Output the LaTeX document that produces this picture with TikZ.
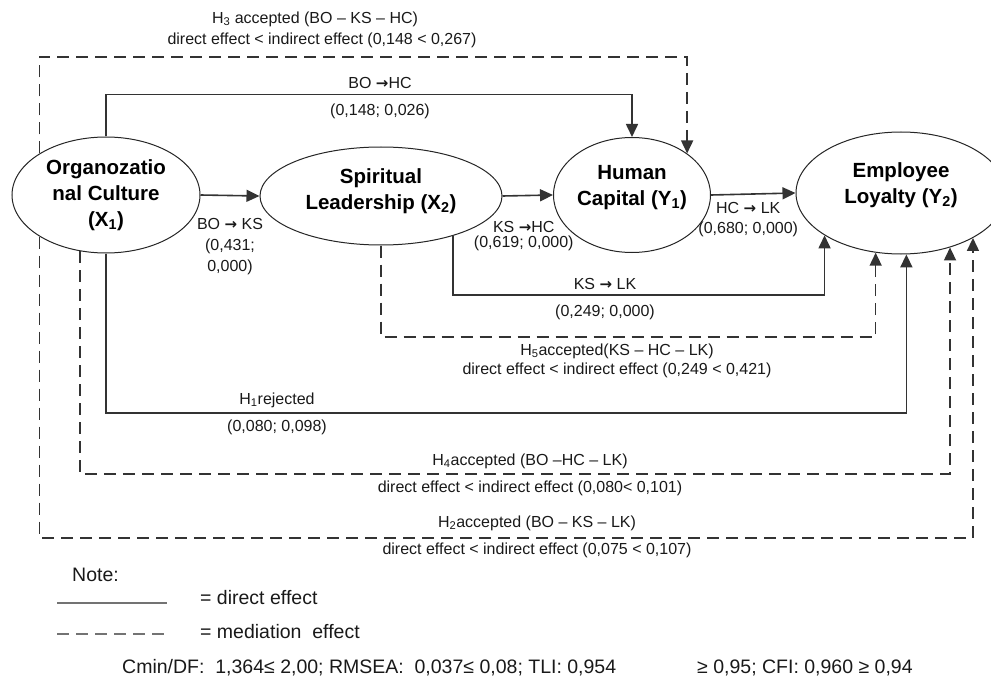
\documentclass[tikz,border=0pt]{standalone}
\usepackage{fontspec}
\setmainfont{Liberation Sans}
\newfontfamily\arrowfont{DejaVu Sans}
\newcommand{\ra}{{\arrowfont\bfseries\fontsize{15}{15}\selectfont →}}
\usepackage{tikz}
\usetikzlibrary{arrows.meta,shapes.geometric}
\tikzset{latent/.style={ellipse,draw=black!85,line width=1pt,fill=white,inner sep=0pt,align=center,font=\fontsize{20.5}{26}\selectfont\bfseries}}
\tikzset{direct/.style={draw=black!80,line width=1.6pt,-{Triangle[length=13pt,width=12pt]}}}
\tikzset{mediation/.style={direct,dash pattern=on 12pt off 7pt}}
\tikzset{lbl/.style={font=\fontsize{16}{19}\selectfont,text=black!90,inner sep=0pt,align=center}}
\tikzset{note/.style={font=\fontsize{19.5}{22}\selectfont,text=black!90,inner sep=0pt,anchor=west}}

\begin{document}
\begin{tikzpicture}[x=1pt,y=-1pt]
\useasboundingbox (0,0) rectangle (991,682);
\clip (0,0) rectangle (991,682);
% \draw[help lines,step=50] (0,0) grid (991,682);
\node (X1) [latent,minimum width=188pt,minimum height=116pt] at (106,195) {Organozatio\\nal Culture\\(X\textsubscript{1})};
\node (X2) [latent,minimum width=242pt,minimum height=98pt,text depth=14pt] at (381,196) {Spiritual\\Leadership (X\textsubscript{2})};
\node (Y1) [latent,minimum width=157pt,minimum height=115pt,text depth=20pt] at (632,195) {Human\\Capital (Y\textsubscript{1})};
\node (Y2) [latent,minimum width=210pt,minimum height=122pt,text depth=20pt] at (901,193) {Employee\\Loyalty (Y\textsubscript{2})};
%
\path (X1.east) edge[direct] node[lbl,below=22pt,text depth=0pt] {BO \ra{} KS\\[2pt](0,431;\\[2pt]0,000)} (X2.west);
\path (X2.east) edge[direct] node[lbl,below=25pt,xshift=-4pt,font=\fontsize{16}{15}\selectfont] {KS \ra HC\\(0,619; 0,000)} (Y1.west);
\path (Y1.east) edge[direct] node[lbl,below=8pt,xshift=-5pt,font=\fontsize{16}{20}\selectfont] {HC \ra{} LK\\(0,680; 0,000)} (Y2.west);

\draw[direct] (X1.north) -- ++(0,-42) -| (Y1.north);
\node (bohc) [lbl] at (380,83) {BO \ra HC};
\node (bohcv) [lbl] at (380,111) {(0,148; 0,026)};

\draw[mediation] (X1.148) -- (X1.148 |- 0,57) -| (Y1.37);
\node (h3a) [lbl] at (315,19) {H\textsubscript{3} accepted (BO – KS – HC)};
\node (h3b) [lbl] at (322,40) {direct effect < indirect effect (0,148 < 0,267)};

\draw[direct] (X2.331) -- (X2.331 |- 0,295) -| (Y2.209);
\node (kslk) [lbl] at (605,284) {KS \ra{} LK};
\node (kslkv) [lbl] at (605,312) {(0,249; 0,000)};

\draw[mediation] (X2.south) -- (X2.south |- 0,337) -| (Y2.247);
\node (h5a) [lbl] at (617,351) {H\textsubscript{5}accepted(KS – HC – LK)};
\node (h5b) [lbl] at (617,370) {direct effect < indirect effect (0,249 < 0,421)};

\draw[direct] (X1.south) -- (X1.south |- 0,413) -| (Y2.275);
\node (h1a) [lbl] at (277,400) {H\textsubscript{1}rejected};
\node (h1b) [lbl] at (277,427) {(0,080; 0,098)};

\draw[mediation] (X1.245) -- (X1.245 |- 0,474) -| (Y2.312);
\node (h4a) [lbl] at (530,461) {H\textsubscript{4}accepted (BO –HC – LK)};
\node (h4b) [lbl] at (530,488) {direct effect < indirect effect (0,080< 0,101)};

\draw[mediation] (X1.212) -- (X1.212 |- 0,538) -| (Y2.328);
\node (h2a) [lbl] at (537,523) {H\textsubscript{2}accepted (BO – KS – LK)};
\node (h2b) [lbl] at (537,550) {direct effect < indirect effect (0,075 < 0,107)};
%
% legend
\node (note) [note] at (72,575) {Note:};
\draw[black!55,line width=1.4pt] (57,603) -- (167,603);
\draw[black!55,line width=1.4pt,dash pattern=on 12pt off 7pt] (57,634) -- (167,634);
\node (ldirect) [note] at (200,598) {= direct effect};
\node (lmediation) [note] at (200,632) {= mediation\ \ effect};
\node (fit1) [note] at (122,668) {Cmin/DF:\ \ 1,364≤ 2,00; RMSEA:\ \ 0,037≤ 0,08; TLI: 0,954};
\node (fit2) [note] at (697,668) {≥ 0,95; CFI: 0,960 ≥ 0,94};
\end{tikzpicture}
\end{document}
